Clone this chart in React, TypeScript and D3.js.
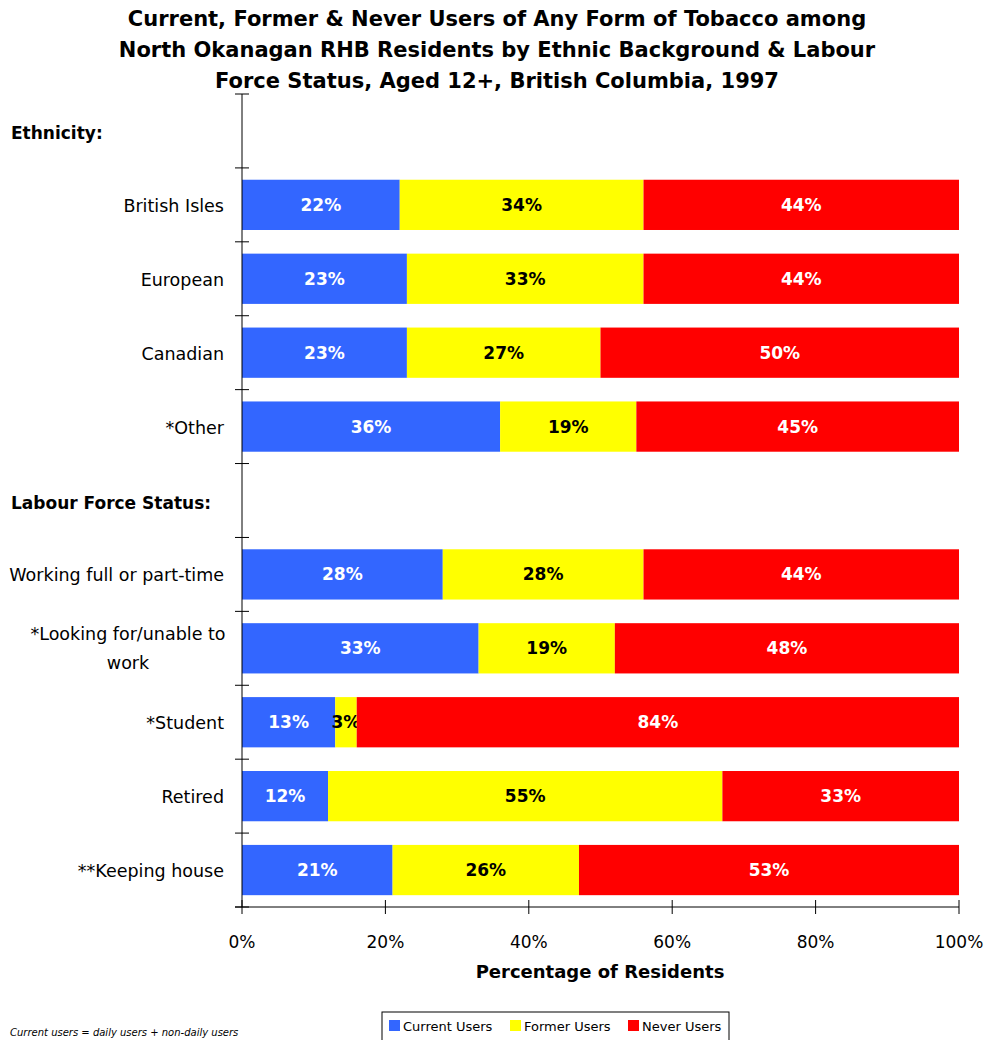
import React from "react";
import * as d3 from "d3";

const categories = [
  "Ethnicity:",
  "British Isles",
  "European",
  "Canadian",
  "*Other",
  "Labour Force Status:",
  "Working full or part-time",
  "*Looking for/unable to work",
  "*Student",
  "Retired",
  "**Keeping house",
];
const headers = ["Ethnicity:", "Labour Force Status:"];
const currentUsers = [null, 22, 23, 23, 36, null, 28, 33, 13, 12, 21];
const formerUsers = [null, 34, 33, 27, 19, null, 28, 19, 3, 55, 26];
const neverUsers = [null, 44, 44, 50, 45, null, 44, 48, 84, 33, 53];
const seriesNames = ["Current Users", "Former Users", "Never Users"];
const seriesColors = ["#3366FF", "#FFFF00", "#FF0000"];
const labelColors = ["#FFFFFF", "#000000", "#FFFFFF"];
const xTicks = [0, 20, 40, 60, 80, 100];
const titleLines = [
  "Current, Former & Never Users of Any Form of Tobacco among",
  "North Okanagan RHB Residents by Ethnic Background & Labour",
  "Force Status, Aged 12+, British Columbia, 1997",
];

const FONT = "'DejaVu Sans', Verdana, sans-serif";

export default function App() {
  const W = 987;
  const H = 1040;
  const left = 242;
  const right = 959;
  const top = 94;
  const bottom = 907;

  const x = d3.scaleLinear().domain([0, 100]).range([left, right]);
  const y = d3
    .scaleBand<string>()
    .domain(categories)
    .range([top, bottom])
    .paddingInner(0.32)
    .paddingOuter(0.16);
  const step = y.step();
  const series = [currentUsers, formerUsers, neverUsers];

  const boundaries = d3.range(categories.length + 1).map((i) => top + i * step);
  const legendX = [389, 510, 628];

  return (
    <svg
      width={W}
      height={H}
      style={{ position: "absolute", left: 0, top: 0, background: "#fff" }}
      fontFamily={FONT}
    >
      {titleLines.map((t, i) => (
        <text
          key={i}
          x={497}
          y={26 + i * 31}
          textAnchor="middle"
          fontWeight="bold"
          fontSize={21}
          fill="#000"
        >
          {t}
        </text>
      ))}

      {categories.map((c, ci) => {
        if (headers.includes(c)) return null;
        let acc = 0;
        const y0 = y(c) as number;
        return (
          <g key={c}>
            {series.map((s, si) => {
              const v = s[ci] as number;
              const x0 = x(acc);
              acc += v;
              const x1 = x(acc);
              return (
                <g key={si}>
                  <rect x={x0} y={y0} width={x1 - x0} height={y.bandwidth()} fill={seriesColors[si]} />
                  <text
                    x={(x0 + x1) / 2}
                    y={y0 + y.bandwidth() / 2 + 6}
                    textAnchor="middle"
                    fontWeight="bold"
                    fontSize={17}
                    fill={labelColors[si]}
                  >
                    {v}%
                  </text>
                </g>
              );
            })}
          </g>
        );
      })}

      {/* category labels */}
      {categories.map((c) => {
        const cy = (y(c) as number) + y.bandwidth() / 2;
        if (headers.includes(c)) {
          return (
            <text key={c} x={11} y={cy + 8} fontWeight="bold" fontSize={17} fill="#000">
              {c}
            </text>
          );
        }
        if (c === "*Looking for/unable to work") {
          return (
            <text key={c} textAnchor="middle" fontSize={17.5} fill="#000">
              <tspan x={128} y={cy - 8}>*Looking for/unable to</tspan>
              <tspan x={128} y={cy + 21}>work</tspan>
            </text>
          );
        }
        return (
          <text key={c} x={224} y={cy + 7} textAnchor="end" fontSize={17.5} fill="#000">
            {c}
          </text>
        );
      })}

      {/* y axis */}
      <line x1={left} x2={left} y1={top} y2={bottom} stroke="#000" strokeWidth={1} />
      {boundaries.map((b, i) => (
        <line key={i} x1={left - 7} x2={left + 7} y1={b} y2={b} stroke="#000" strokeWidth={1} />
      ))}

      {/* x axis */}
      <line x1={left - 7} x2={right} y1={bottom} y2={bottom} stroke="#000" strokeWidth={1} />
      {xTicks.map((t) => (
        <g key={t}>
          <line x1={x(t)} x2={x(t)} y1={bottom - 7} y2={bottom + 7} stroke="#000" strokeWidth={1} />
          <text x={x(t)} y={948} textAnchor="middle" fontSize={17} fill="#000">
            {t}%
          </text>
        </g>
      ))}
      <text x={600} y={978} textAnchor="middle" fontWeight="bold" fontSize={18} fill="#000">
        Percentage of Residents
      </text>

      {/* legend */}
      <rect x={382} y={1012} width={347} height={40} fill="#fff" stroke="#000" strokeWidth={1} />
      {seriesNames.map((n, i) => (
        <g key={n}>
          <rect x={legendX[i]} y={1020} width={11} height={11} fill={seriesColors[i]} />
          <text x={legendX[i] + 14} y={1031} fontSize={13} fill="#000">
            {n}
          </text>
        </g>
      ))}

      <text x={10} y={1036} fontSize={10} fontStyle="italic" fill="#000">
        Current users = daily users + non-daily users
      </text>
    </svg>
  );
}
